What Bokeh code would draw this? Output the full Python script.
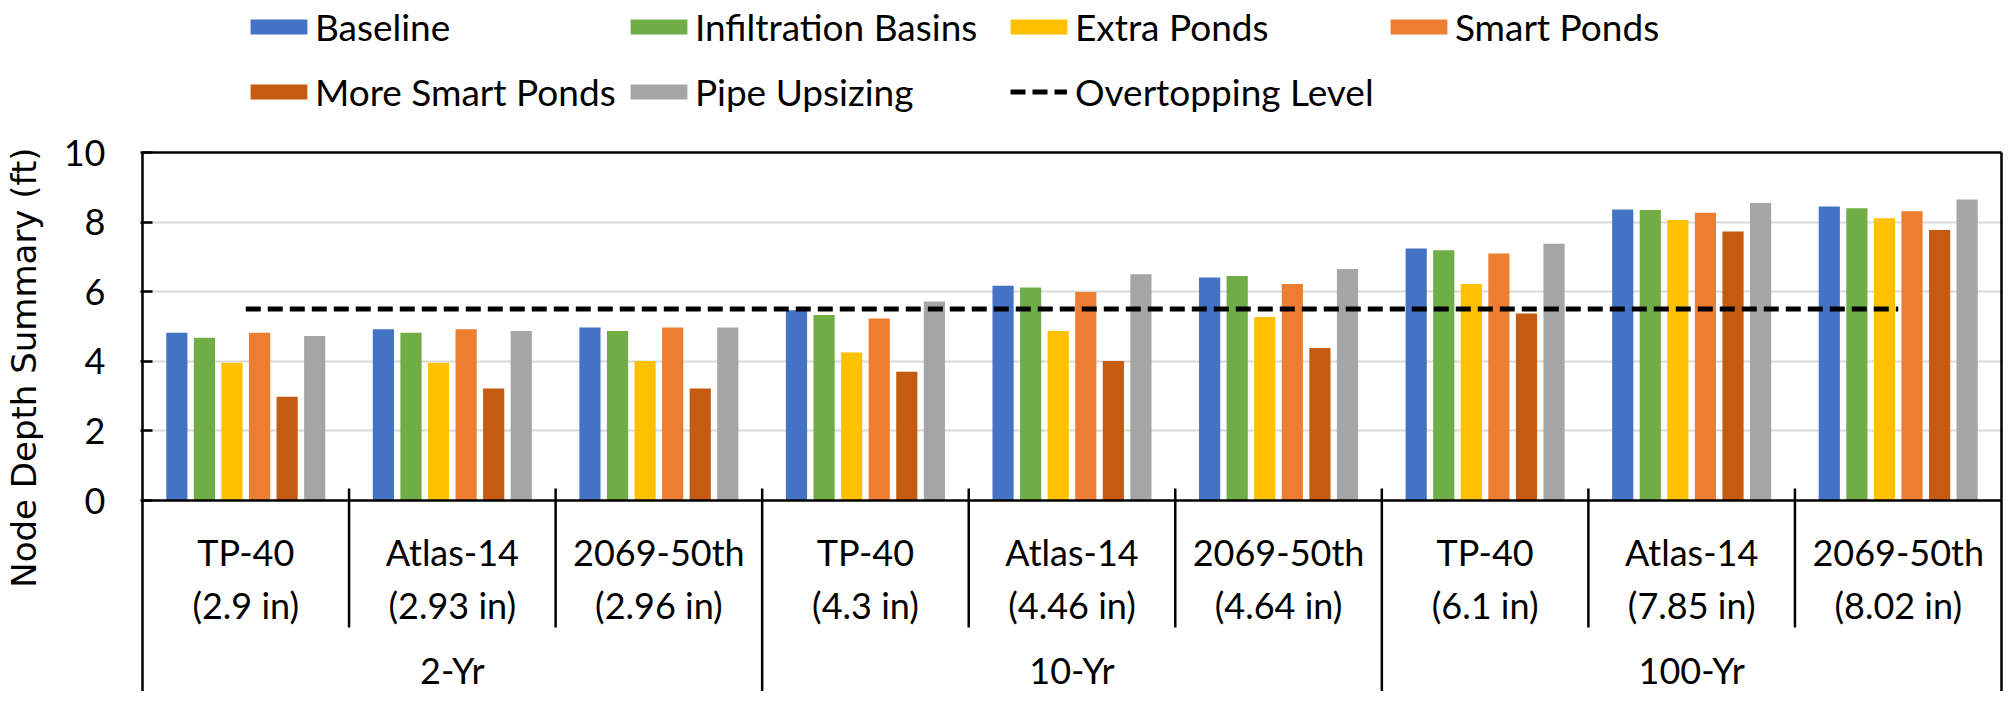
import numpy as np
from bokeh.plotting import figure
from bokeh.models import Range1d, FixedTicker, Legend, LegendItem, ColumnDataSource
from bokeh.embed import file_html
from bokeh.resources import INLINE
from bokeh.core.properties import value

# ---------------- data ----------------
groups = ["2-Yr", "10-Yr", "100-Yr"]
scenarios = ["TP-40", "Atlas-14", "2069-50th", "TP-40", "Atlas-14", "2069-50th",
             "TP-40", "Atlas-14", "2069-50th"]
rainfall = ["(2.9 in)", "(2.93 in)", "(2.96 in)", "(4.3 in)", "(4.46 in)", "(4.64 in)",
            "(6.1 in)", "(7.85 in)", "(8.02 in)"]

series_names = ["Baseline", "Infiltration Basins", "Extra Ponds", "Smart Ponds",
                "More Smart Ponds", "Pipe Upsizing"]
baseline = [4.82, 4.92, 4.97, 5.47, 6.17, 6.41, 7.24, 8.36, 8.45]
infiltration = [4.68, 4.82, 4.87, 5.33, 6.12, 6.45, 7.19, 8.35, 8.40]
extra_ponds = [3.96, 3.96, 4.01, 4.25, 4.87, 5.27, 6.22, 8.06, 8.11]
smart_ponds = [4.82, 4.92, 4.97, 5.23, 5.99, 6.22, 7.10, 8.27, 8.31]
more_smart_ponds = [2.98, 3.22, 3.22, 3.70, 4.01, 4.38, 5.37, 7.73, 7.77]
pipe_upsizing = [4.73, 4.87, 4.97, 5.72, 6.50, 6.65, 7.38, 8.55, 8.65]
overtopping = [5.5] * 9
y_ticks = [0, 2, 4, 6, 8, 10]
y_title = "Node Depth Summary (ft)"

colors = ["#4472C4", "#70AD47", "#FFC000", "#ED7D31", "#C55A11", "#A5A5A5"]
all_series = [baseline, infiltration, extra_ponds, smart_ponds, more_smart_ponds, pipe_upsizing]

FONT = "Lato"
TFONT = "DejaVu Sans"
FS = "36px"
LFS = "37px"

# ---------------- geometry ----------------
W, H = 2003, 691
X0_PX, X9_PX = 140, 2001
n = len(scenarios)
PX_X = (X9_PX - X0_PX) / n
FRAME_LEFT = 138
Y10, Y0 = 152, 500
PX_Y = (Y0 - Y10) / 10.0
x_start = -(X0_PX - FRAME_LEFT) / PX_X
x_end = n + (W - X9_PX) / PX_X
y_start = 10 - (H - Y10) / PX_Y
y_end = 10 + Y10 / PX_Y


def yv(px):
    return 10 - (px - Y10) / PX_Y


p = figure(width=W, height=H, x_range=Range1d(x_start, x_end), y_range=Range1d(y_start, y_end),
           output_backend="svg", toolbar_location=None, x_axis_location=None,
           min_border_left=FRAME_LEFT, min_border_right=0, min_border_top=0, min_border_bottom=0,
           outline_line_color=None, background_fill_color="white", border_fill_color="white")

p.xgrid.visible = False
p.ygrid.ticker = FixedTicker(ticks=[t for t in y_ticks if 0 < t < 10])
p.ygrid.grid_line_color = "#D9D9D9"
p.ygrid.grid_line_width = 2

ya = p.yaxis[0]
ya.ticker = FixedTicker(ticks=y_ticks)
ya.bounds = (yv(586), 10)
ya.major_tick_in = 12
ya.major_tick_out = 0
ya.minor_tick_line_color = None
ya.axis_line_color = None
ya.major_tick_line_width = 2.5
ya.major_tick_line_color = "black"
ya.major_label_text_font = FONT
ya.major_label_text_font_size = FS
ya.major_label_text_color = "black"
ya.major_label_standoff = 35
# trailing no-break spaces shift the (frame-centred) title down to match the original
ya.axis_label = y_title + "\u00a0" * 4
ya.axis_label_text_font = TFONT
ya.axis_label_text_font_size = "34px"
ya.axis_label_text_font_style = "normal"
ya.axis_label_text_color = "black"
ya.axis_label_standoff = 17

# ---------------- bars ----------------
step = 27.6 / PX_X
bw = 21.2 / PX_X
centers = np.arange(n) + 0.5
renderers = []
for j, (name, vals, col) in enumerate(zip(series_names, all_series, colors)):
    src = ColumnDataSource(dict(x=centers + (j - 2.5) * step, top=vals))
    r = p.vbar(x="x", top="top", width=bw, bottom=0, source=src, fill_color=col, line_color=None)
    renderers.append(r)

# overtopping line
line_r = p.line(x=centers, y=overtopping, line_color="black", line_width=5, line_dash="15 7")

# frame / axis lines
tick_up = 12 / PX_Y
p.segment(x0=[0, 0, 0, n], y0=[10, 0, y_start, y_start], x1=[n, n, 0, n], y1=[10, 0, 10, 10],
          line_color="black", line_width=2.5)
inner = [k for k in range(1, n) if k % 3 != 0]
outer = [k for k in range(1, n) if k % 3 == 0]
p.segment(x0=inner, y0=[tick_up] * len(inner), x1=inner, y1=[yv(627)] * len(inner),
          line_color="black", line_width=2.5)
p.segment(x0=outer, y0=[tick_up] * len(outer), x1=outer, y1=[y_start] * len(outer),
          line_color="black", line_width=2.5)

# category labels
p.text(x=centers, y=[yv(551)] * n, text=scenarios, text_font=value(FONT), text_font_size=FS,
       text_align="center", text_baseline="middle", text_color="black")
p.text(x=centers, y=[yv(604)] * n, text=rainfall, text_font=value(FONT), text_font_size=FS,
       text_align="center", text_baseline="middle", text_color="black")
p.text(x=[1.5, 4.5, 7.5], y=[yv(669)] * 3, text=groups, text_font=value(FONT), text_font_size=FS,
       text_align="center", text_baseline="middle", text_color="black")

# ---------------- legends ----------------
def add_leg(label, r, fx, fy_center, gw, gh, standoff):
    leg_h = 43
    loc = (fx - FRAME_LEFT, H - (fy_center + leg_h / 2))
    leg = Legend(items=[LegendItem(label=label, renderers=[r])], location=loc,
                 glyph_width=gw, glyph_height=gh, label_standoff=standoff, margin=0, padding=0,
                 spacing=0, border_line_color=None, background_fill_alpha=0,
                 label_text_font=FONT, label_text_font_size=LFS, label_text_color="black")
    p.add_layout(leg)

cols_px = [248, 628, 1008, 1388]
row1_c, row2_c = 27.6, 92
for k in range(4):
    add_leg(series_names[k], renderers[k], cols_px[k] - 7.1, row1_c, 71, 19, 1)
add_leg(series_names[4], renderers[4], cols_px[0] - 7.1, row2_c, 71, 19, 1)
add_leg(series_names[5], renderers[5], cols_px[1] - 7.1, row2_c, 71, 19, 1)
add_leg("Overtopping Level", line_r, cols_px[2], row2_c, 57, 19, 8)

open("out.html", "w").write(file_html(p, INLINE))
